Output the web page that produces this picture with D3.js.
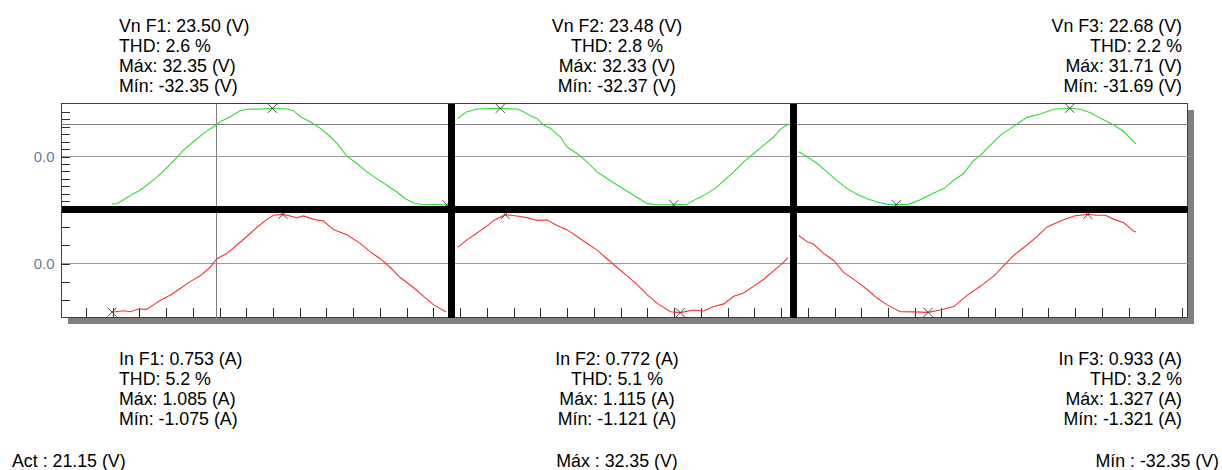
<!DOCTYPE html>
<html>
<head>
<meta charset="utf-8">
<script src="https://cdn.jsdelivr.net/npm/d3@7"></script>
<style>
    body { margin: 0; background: #fff; }
    text { font-family: "Liberation Sans", Arial, sans-serif; }
    .info { font-size: 17.8px; fill: #000; }
    .axis-y text { font-size: 15px; fill: #6a7a96; }
    .axis line { stroke: #303030; shape-rendering: crispEdges; }
    .grid { stroke: #9a9a9a; stroke-width: 1; shape-rendering: crispEdges; }
    .cursor { stroke: #808080; stroke-width: 1; shape-rendering: crispEdges; }
    .line { fill: none; stroke-width: 1.1; }
    .line-v { stroke: #2fdc2f; }
    .line-i { stroke: #f23434; }
    .mark { fill: none; stroke: #4a4a4a; stroke-width: 1; }
    .bar { stroke: #000; stroke-width: 7; shape-rendering: crispEdges; }
</style>
</head>
<body>
<div id="chart"></div>
<script>
const phases = ["F1", "F2", "F3"];
const vnRms = [23.50, 23.48, 22.68];
const vnThd = [2.6, 2.8, 2.2];
const vnMax = [32.35, 32.33, 31.71];
const vnMin = [-32.35, -32.37, -31.69];
const inRms = [0.753, 0.772, 0.933];
const inThd = [5.2, 5.1, 3.2];
const inMax = [1.085, 1.115, 1.327];
const inMin = [-1.075, -1.121, -1.321];

// cursor readout
const cursorT = 4.89;
const cursorAct = 21.15;
const cursorMax = 32.35;
const cursorMin = -32.35;

// time axis (divisions) and phase separators
const xTicks = d3.range(0, 42);
const separators = [13.67, 26.46];
const vTicks = [-30, -25, -20, -15, -10, -5, 0, 5, 10, 15, 20, 25, 30];
const iTicks = [-0.8, -0.4, 0, 0.4, 0.8];

// waveforms: [t, value]
const vnF1 = [[0.98,-31.9],[1.16,-31.68],[1.47,-28.31],[1.78,-24.94],[2.03,-22.69],[2.28,-19.32],[2.59,-14.83],[2.90,-9.88],[3.28,-3.15],[3.65,4.27],[4.03,9.88],[4.40,15.50],[4.77,19.99],[5.02,23.36],[5.40,26.73],[5.77,30.78],[6.02,31.68],[6.52,31.90],[6.98,32.35],[7.52,31.90],[7.77,30.78],[8.02,26.73],[8.39,23.36],[8.77,18.87],[9.14,13.25],[9.39,8.76],[9.76,0.22],[10.14,-4.72],[10.51,-10.33],[10.88,-14.83],[11.26,-19.32],[11.63,-23.81],[11.95,-28.31],[12.26,-31.23],[12.51,-32.1],[13.50,-32.35]];
const vnF2 = [[13.90,25.61],[14.25,30.10],[14.63,31.90],[15.13,32.2],[15.50,32.33],[16.12,31.90],[16.37,30.10],[16.62,27.41],[16.87,25.61],[17.12,21.12],[17.37,18.87],[17.74,13.25],[17.99,6.51],[18.37,2.02],[18.74,-3.59],[19.12,-10.33],[19.49,-14.83],[19.99,-20.44],[20.49,-26.06],[20.99,-31.68],[21.24,-32.2],[21.99,-32.37],[22.48,-32.1],[22.86,-28.31],[23.23,-24.94],[23.61,-20.44],[23.98,-14.15],[24.23,-10.33],[24.60,-3.59],[24.98,2.02],[25.35,7.64],[25.73,13.25],[25.97,18.20],[26.22,21.12]];
const vnF3 = [[26.66,3.08],[26.97,-0.22],[27.35,-4.62],[27.72,-10.1],[28.10,-16.07],[28.47,-21.14],[28.84,-24.88],[29.22,-27.75],[29.59,-29.95],[29.97,-31.5],[30.31,-31.69],[30.78,-31.5],[31.21,-28.41],[31.71,-24.00],[32.09,-21.14],[32.46,-15.63],[32.83,-11.23],[33.15,-3.52],[33.46,0.88],[33.83,7.49],[34.21,14.09],[34.58,18.50],[34.95,22.90],[35.20,25.76],[35.70,27.97],[36.20,31.05],[36.80,31.71],[37.20,31.05],[37.57,28.85],[37.95,25.10],[38.45,20.70],[38.82,16.29],[39.28,8.15]];

const inF1 = [[0.98,-1.075],[1.10,-1.066],[1.41,-1.043],[1.66,-1.066],[1.97,-1.006],[2.28,-1.013],[2.53,-0.915],[2.78,-0.817],[3.15,-0.703],[3.53,-0.552],[3.90,-0.401],[4.28,-0.272],[4.65,-0.083],[4.90,0.106],[5.27,0.219],[5.65,0.408],[6.02,0.597],[6.40,0.801],[6.77,0.975],[7.02,1.066],[7.37,1.085],[7.64,1.051],[7.89,1.013],[8.14,1.051],[8.52,0.975],[8.89,0.938],[9.26,0.749],[9.76,0.635],[10.26,0.446],[10.64,0.257],[11.01,0.106],[11.38,-0.083],[11.76,-0.310],[12.26,-0.537],[12.63,-0.726],[13.01,-0.915],[13.47,-1.07]];
const inF2 = [[13.90,0.367],[14.25,0.539],[14.63,0.695],[15.00,0.852],[15.25,0.984],[15.69,1.115],[16.12,1.086],[16.50,1.047],[16.87,0.984],[17.25,0.992],[17.62,0.867],[17.99,0.773],[18.37,0.617],[18.74,0.461],[19.12,0.305],[19.49,0.109],[19.86,-0.086],[20.24,-0.281],[20.61,-0.477],[20.99,-0.711],[21.36,-0.906],[21.86,-1.101],[22.23,-1.121],[22.73,-1.062],[23.11,-1.086],[23.48,-0.984],[23.86,-0.922],[24.23,-0.750],[24.60,-0.672],[24.98,-0.516],[25.35,-0.359],[25.73,-0.164],[26.10,0.031],[26.25,0.133]];
const inF3 = [[26.66,0.758],[26.97,0.592],[27.22,0.518],[27.60,0.268],[27.97,0.083],[28.34,-0.240],[28.84,-0.490],[29.22,-0.703],[29.59,-0.934],[29.97,-1.119],[30.46,-1.304],[30.96,-1.307],[31.50,-1.321],[31.96,-1.258],[32.46,-1.165],[32.96,-0.860],[33.46,-0.610],[33.96,-0.333],[34.33,-0.055],[34.70,0.222],[35.20,0.499],[35.58,0.731],[35.95,0.989],[36.45,1.147],[36.95,1.285],[37.47,1.327],[37.82,1.304],[38.13,1.304],[38.45,1.193],[38.82,1.100],[39.19,0.869],[39.28,0.851]];

const vnWaves = [vnF1, vnF2, vnF3];
const inWaves = [inF1, inF2, inF3];

class waveChart {
    constructor(id) {
        this.select = d3.select(`#${id}`);
        this.width = 1222;
        this.height = 470;
        this.box = {l: 61.5, r: 1187.5, t: 103.5, b: 317.5};
        this.mid = 209.5;
        this.zoom = 1.1;

        this.init();
        this.createSVG();
        this.addAxis();
        this.buildChart();
        this.addLabels();
    }

    init() {
        this.scale_x = d3
            .scaleLinear()
            .domain([-0.91, 41.2])
            .range([this.box.l, this.box.r]);

        // each phase is scaled to its own peak
        this.scale_v = phases.map((p, i) => {
            const amp = Math.max(vnMax[i], -vnMin[i]) * this.zoom;
            return d3.scaleLinear().domain([-amp, amp]).range([this.mid, this.box.t]);
        });
        this.scale_i = phases.map((p, i) => {
            const amp = Math.max(inMax[i], -inMin[i]) * this.zoom;
            return d3.scaleLinear().domain([-amp, amp]).range([this.box.b, this.mid]);
        });
    }

    createSVG() {
        this.plot = this.select
            .append("svg")
            .attr("width", this.width)
            .attr("height", this.height);

        const b = this.box;
        // drop shadow + frame
        this.plot.append("rect")
            .attr("x", b.l + 6.5).attr("y", b.t + 6.5)
            .attr("width", b.r - b.l).attr("height", b.b - b.t)
            .attr("fill", "#808080");
        this.plot.append("rect")
            .attr("x", b.l).attr("y", b.t)
            .attr("width", b.r - b.l).attr("height", b.b - b.t)
            .attr("fill", "#fff")
            .attr("stroke", "#404040")
            .attr("stroke-width", 1);

        this.plot_grid = this.plot.append("g").attr("class", "grid-layer");
        this.axis_x = this.plot.append("g").attr("class", "axis axis-x");
        this.axis_v = this.plot.append("g").attr("class", "axis axis-y");
        this.axis_i = this.plot.append("g").attr("class", "axis axis-y");
        this.plot_chart = this.plot.append("g").attr("class", "chart");
        this.plot_bars = this.plot.append("g").attr("class", "bars");
        this.plot_text = this.plot.append("g").attr("class", "labels");
    }

    addAxis() {
        const fmt = d => (d === 0 ? "0.0" : "");

        this.axis_x
            .attr("transform", `translate(0, ${this.box.b})`)
            .call(d3.axisTop(this.scale_x).tickValues(xTicks).tickSize(10).tickFormat(""));

        this.axis_v
            .attr("transform", `translate(${this.box.l}, 0)`)
            .call(d3.axisLeft(this.scale_v[0]).tickValues(vTicks).tickSize(-8).tickPadding(7).tickFormat(fmt));

        this.axis_i
            .attr("transform", `translate(${this.box.l}, 0)`)
            .call(d3.axisLeft(this.scale_i[0]).tickValues(iTicks).tickSize(-8).tickPadding(7).tickFormat(fmt));

        this.plot.selectAll(".axis .domain").remove();
    }

    buildChart() {
        const b = this.box;

        // zero lines
        this.plot_grid
            .selectAll(".zero")
            .data([this.scale_v[0](0), this.scale_i[0](0)])
            .join("line")
            .attr("class", "grid zero")
            .attr("x1", b.l).attr("x2", b.r)
            .attr("y1", d => d).attr("y2", d => d);

        // cursor
        const cy = this.scale_v[0](cursorAct);
        this.plot_grid.append("line")
            .attr("class", "cursor")
            .attr("x1", b.l).attr("x2", b.r)
            .attr("y1", cy).attr("y2", cy);
        this.plot_grid.append("line")
            .attr("class", "cursor")
            .attr("x1", this.scale_x(cursorT)).attr("x2", this.scale_x(cursorT))
            .attr("y1", b.t).attr("y2", b.b);

        const series = [];
        phases.forEach((p, i) => {
            series.push({cls: "line-v", data: vnWaves[i], y: this.scale_v[i]});
            series.push({cls: "line-i", data: inWaves[i], y: this.scale_i[i]});
        });

        this.plot_chart
            .selectAll(".line")
            .data(series)
            .join("path")
            .attr("class", d => `line ${d.cls}`)
            .attr("d", d => d3.line()
                .x(p => this.scale_x(p[0]))
                .y(p => d.y(p[1]))(d.data));

        // max / min markers
        const marks = [];
        series.forEach(s => {
            [d3.maxIndex(s.data, p => p[1]), d3.minIndex(s.data, p => p[1])].forEach(k => {
                marks.push({x: this.scale_x(s.data[k][0]), y: s.y(s.data[k][1])});
            });
        });
        this.plot_chart
            .selectAll(".mark")
            .data(marks)
            .join("path")
            .attr("class", "mark")
            .attr("transform", d => `translate(${d.x}, ${d.y})`)
            .attr("d", "M-4.5,-4.5L4.5,4.5M-4.5,4.5L4.5,-4.5");

        // thick separators
        this.plot_bars.append("line")
            .attr("class", "bar")
            .attr("x1", b.l).attr("x2", b.r)
            .attr("y1", this.mid).attr("y2", this.mid);
        this.plot_bars
            .selectAll(".sep")
            .data(separators)
            .join("line")
            .attr("class", "bar sep")
            .attr("x1", d => this.scale_x(d)).attr("x2", d => this.scale_x(d))
            .attr("y1", b.t).attr("y2", b.b);
    }

    addLabels() {
        const anchors = [
            {x: 119, a: "start"},
            {x: 617, a: "middle"},
            {x: 1182, a: "end"}
        ];

        const block = (lines, x, anchor, y0) => {
            this.plot_text.append("g")
                .selectAll("text")
                .data(lines)
                .join("text")
                .attr("class", "info")
                .attr("x", x)
                .attr("y", (d, k) => y0 + k * 20)
                .attr("text-anchor", anchor)
                .text(d => d);
        };

        phases.forEach((p, i) => {
            block([
                `Vn ${p}: ${vnRms[i].toFixed(2)} (V)`,
                `THD: ${vnThd[i].toFixed(1)} %`,
                `Máx: ${vnMax[i].toFixed(2)} (V)`,
                `Mín: ${vnMin[i].toFixed(2)} (V)`
            ], anchors[i].x, anchors[i].a, 32);

            block([
                `In ${p}: ${inRms[i].toFixed(3)} (A)`,
                `THD: ${inThd[i].toFixed(1)} %`,
                `Máx: ${inMax[i].toFixed(3)} (A)`,
                `Mín: ${inMin[i].toFixed(3)} (A)`
            ], anchors[i].x, anchors[i].a, 365);
        });

        block([`Act : ${cursorAct.toFixed(2)} (V)`], 12, "start", 467);
        block([`Máx : ${cursorMax.toFixed(2)} (V)`], 617, "middle", 467);
        block([`Mín : ${cursorMin.toFixed(2)} (V)`], 1219, "end", 467);
    }
}

new waveChart("chart");
</script>
</body>
</html>
